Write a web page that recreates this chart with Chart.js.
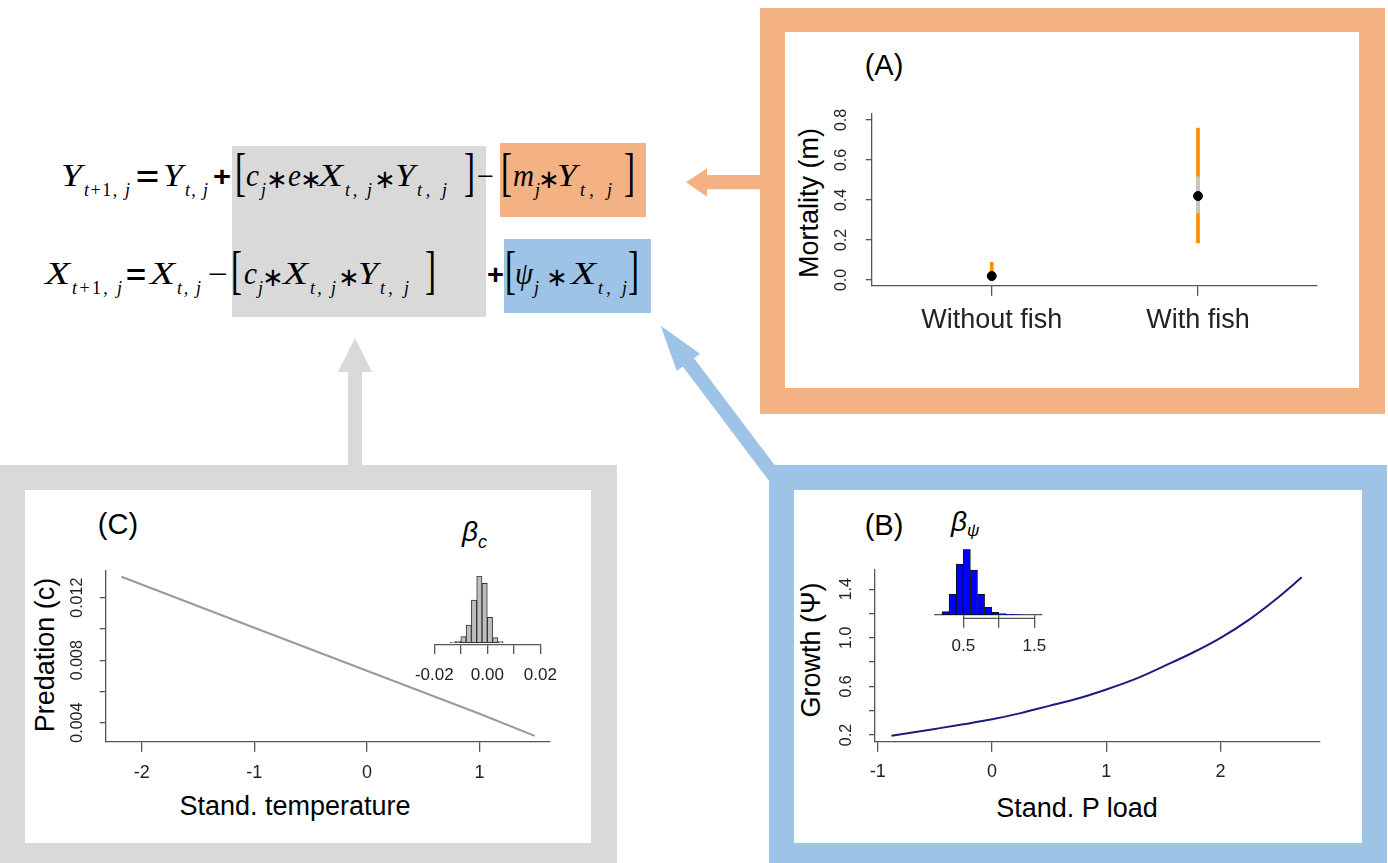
<!DOCTYPE html>
<html>
<head>
<meta charset="utf-8">
<script src="https://cdn.jsdelivr.net/npm/chart.js@4.4.1/dist/chart.umd.min.js"></script>
<style>
  html, body { margin: 0; padding: 0; background: #fff; }
  #stage { position: relative; width: 1388px; height: 863px; overflow: hidden; }
  #stage svg { position: absolute; left: 0; top: 0; }
  .plot { position: absolute; }
  .m { font-family: "Liberation Serif", serif; font-style: italic; font-size: 31px; }
  .s { font-family: "Liberation Serif", serif; font-style: italic; font-size: 18px; }
  .u { font-style: normal; }
  .op { font-family: "Liberation Sans", sans-serif; font-weight: bold; font-size: 28px; }
  .mi { font-family: "Liberation Serif", serif; font-size: 30px; }
  .br { font-family: "Liberation Serif", serif; font-size: 52px; }
  .ast { font-family: "DejaVu Sans", sans-serif; font-size: 26px; }
  .lbl { font-family: "Liberation Sans", Arial, sans-serif; fill: #000; }
</style>
</head>
<body>
<div id="stage">
<svg width="1388" height="863">
  <!-- panel frames -->
  <rect x="760" y="8" width="625" height="406" fill="#F4B183"/>
  <rect x="785" y="32" width="574" height="356" fill="#fff"/>
  <rect x="0" y="465" width="617" height="398" fill="#D9D9D9"/>
  <rect x="25" y="490" width="566" height="353" fill="#fff"/>
  <rect x="769" y="465" width="618" height="398" fill="#9DC3E6"/>
  <rect x="794" y="490" width="568" height="353" fill="#fff"/>

  <!-- equation highlight boxes -->
  <rect x="232" y="146" width="254" height="171" fill="#D9D9D9"/>
  <rect x="500" y="143" width="146" height="74" fill="#F4B183"/>
  <rect x="504" y="239" width="147" height="74" fill="#9DC3E6"/>

  <!-- arrows -->
  <polygon fill="#F4B183" points="762,175 707,175 707,168.3 686,182.3 707,196.7 707,189.3 762,189.3"/>
  <polygon fill="#D9D9D9" points="355,338 372,372 362,372 362,466 348,466 348,372 338,372"/>
  <polygon fill="#9DC3E6" points="660.7,325.7 700,353.7 694,358.2 781.2,473.8 770,482.2 682.8,366.6 676.8,371.1"/>

  <!-- equation row 1 -->
  <text class="m" x="61" y="186" textLength="21" lengthAdjust="spacingAndGlyphs">Y</text>
  <text class="s" x="84" y="196" textLength="46">t<tspan class="u">+1</tspan>, j</text>
  <text class="op" x="136" y="186" textLength="23" lengthAdjust="spacingAndGlyphs">=</text>
  <text class="m" x="163" y="186" textLength="20" lengthAdjust="spacingAndGlyphs">Y</text>
  <text class="s" x="185" y="196" textLength="23">t, j</text>
  <text class="op" x="213" y="186" textLength="18" lengthAdjust="spacingAndGlyphs">+</text>
  <text class="br" x="235" y="190" textLength="11" lengthAdjust="spacingAndGlyphs">[</text>
  <text class="m" x="246" y="186" textLength="13" lengthAdjust="spacingAndGlyphs">c</text>
  <text class="s" x="261" y="196">j</text>
  <text class="ast" x="277" y="188" text-anchor="middle">∗</text>
  <text class="m" x="288" y="186" textLength="13" lengthAdjust="spacingAndGlyphs">e</text>
  <text class="ast" x="311" y="188" text-anchor="middle">∗</text>
  <text class="m" x="318" y="186" textLength="25" lengthAdjust="spacingAndGlyphs">X</text>
  <text class="s" x="345" y="196" textLength="27">t, j</text>
  <text class="ast" x="385" y="188" text-anchor="middle">∗</text>
  <text class="m" x="395" y="186" textLength="20" lengthAdjust="spacingAndGlyphs">Y</text>
  <text class="s" x="417" y="196" textLength="30">t, j</text>
  <text class="br" x="464" y="190" textLength="11" lengthAdjust="spacingAndGlyphs">]</text>
  <text class="mi" x="477" y="186" textLength="17" lengthAdjust="spacingAndGlyphs">−</text>
  <text class="br" x="501" y="190" textLength="11" lengthAdjust="spacingAndGlyphs">[</text>
  <text class="m" x="513" y="186" textLength="21" lengthAdjust="spacingAndGlyphs">m</text>
  <text class="s" x="535" y="196">j</text>
  <text class="ast" x="549" y="188" text-anchor="middle">∗</text>
  <text class="m" x="557" y="186" textLength="20" lengthAdjust="spacingAndGlyphs">Y</text>
  <text class="s" x="580" y="196" textLength="32">t, j</text>
  <text class="br" x="624" y="190" textLength="11" lengthAdjust="spacingAndGlyphs">]</text>

  <!-- equation row 2 -->
  <text class="m" x="45" y="284" textLength="25" lengthAdjust="spacingAndGlyphs">X</text>
  <text class="s" x="72" y="294" textLength="50">t<tspan class="u">+1</tspan>, j</text>
  <text class="op" x="126" y="284" textLength="20" lengthAdjust="spacingAndGlyphs">=</text>
  <text class="m" x="150" y="284" textLength="25" lengthAdjust="spacingAndGlyphs">X</text>
  <text class="s" x="177" y="294" textLength="24">t, j</text>
  <text class="mi" x="208" y="284" textLength="20" lengthAdjust="spacingAndGlyphs">−</text>
  <text class="br" x="231" y="288" textLength="11" lengthAdjust="spacingAndGlyphs">[</text>
  <text class="m" x="244" y="284" textLength="13" lengthAdjust="spacingAndGlyphs">c</text>
  <text class="s" x="258" y="294">j</text>
  <text class="ast" x="273" y="286" text-anchor="middle">∗</text>
  <text class="m" x="283" y="284" textLength="25" lengthAdjust="spacingAndGlyphs">X</text>
  <text class="s" x="310" y="294" textLength="26">t, j</text>
  <text class="ast" x="349" y="286" text-anchor="middle">∗</text>
  <text class="m" x="358" y="284" textLength="20" lengthAdjust="spacingAndGlyphs">Y</text>
  <text class="s" x="380" y="294" textLength="29">t, j</text>
  <text class="br" x="425" y="288" textLength="11" lengthAdjust="spacingAndGlyphs">]</text>
  <text class="op" x="487" y="284" textLength="17" lengthAdjust="spacingAndGlyphs">+</text>
  <text class="br" x="505" y="288" textLength="11" lengthAdjust="spacingAndGlyphs">[</text>
  <text class="m" x="515" y="284" textLength="18" lengthAdjust="spacingAndGlyphs">ψ</text>
  <text class="s" x="534" y="294">j</text>
  <text class="ast" x="557" y="286" text-anchor="middle">∗</text>
  <text class="m" x="571" y="284" textLength="25" lengthAdjust="spacingAndGlyphs">X</text>
  <text class="s" x="598" y="294" textLength="29">t, j</text>
  <text class="br" x="628" y="288" textLength="11" lengthAdjust="spacingAndGlyphs">]</text>

  <!-- panel letters and inset titles -->
  <text class="lbl" x="884" y="75" font-size="29" text-anchor="middle">(A)</text>
  <text class="lbl" x="118" y="534" font-size="29" text-anchor="middle">(C)</text>
  <text class="lbl" x="884" y="535" font-size="29" text-anchor="middle">(B)</text>
  <text class="lbl" x="462" y="541" font-size="28" font-style="italic">β<tspan font-size="18" dy="7">c</tspan></text>
  <text class="lbl" x="951" y="531" font-size="28" font-style="italic">β<tspan font-size="17" dy="5">ψ</tspan></text>

  <!-- axis titles -->
  <text class="lbl" font-size="27" text-anchor="middle" transform="translate(818,203) rotate(-90)">Mortality (m)</text>
  <text class="lbl" font-size="27" text-anchor="middle" transform="translate(54,655) rotate(-90)">Predation (c)</text>
  <text class="lbl" font-size="27" text-anchor="middle" transform="translate(820,650) rotate(-90)">Growth (Ψ)</text>
  <text class="lbl" font-size="27" text-anchor="middle" x="295" y="815">Stand. temperature</text>
  <text class="lbl" font-size="27" text-anchor="middle" x="1077" y="817">Stand. P load</text>
</svg>

<div class="plot" style="left:785px;top:32px;width:574px;height:356px"><canvas id="chartA"></canvas></div>
<div class="plot" style="left:25px;top:490px;width:566px;height:353px"><canvas id="chartC"></canvas></div>
<div class="plot" style="left:794px;top:490px;width:568px;height:353px"><canvas id="chartB"></canvas></div>
<div class="plot" style="left:400px;top:560px;width:180px;height:140px"><canvas id="histC"></canvas></div>
<div class="plot" style="left:920px;top:530px;width:140px;height:140px"><canvas id="histB"></canvas></div>
</div>

<script>
// ---- data ----
const groups = ['Without fish', 'With fish'];
const mortMedian = [0.02, 0.42];
const mortLow95 = [-0.003, 0.185];
const mortHigh95 = [0.088, 0.76];
const mortLow50 = [0.008, 0.336];
const mortHigh50 = [0.036, 0.516];
const mortTicks = [0, 0.2, 0.4, 0.6, 0.8];

const tempX = [-2.18, -1, 0, 1, 1.49];
const predY = [0.01334, 0.01008, 0.00732, 0.00457, 0.00315];
const tempTicks = [-2, -1, 0, 1];
const predTicks = [0.004, 0.006, 0.008, 0.010, 0.012];
const predTickLabels = ['0.004', '', '0.008', '', '0.012'];

const pLoadX = [-0.88, -0.5, -0.25, 0, 0.25, 0.5, 0.75, 1, 1.25, 1.5, 1.75, 2, 2.25, 2.5, 2.71];
const growthY = [0.194, 0.25, 0.288, 0.329, 0.38, 0.44, 0.5, 0.575, 0.66, 0.765, 0.875, 1.0, 1.15, 1.33, 1.498];
const pLoadTicks = [-1, 0, 1, 2];
const growthTicks = [0.2, 0.4, 0.6, 0.8, 1.0, 1.2, 1.4];
const growthTickLabels = ['0.2', '', '0.6', '', '1.0', '', '1.4'];

const betaCBins = [-0.013, -0.011, -0.009, -0.007, -0.005, -0.003, -0.001, 0.001, 0.003, 0.005];
const betaCCounts = [1, 5, 18, 53, 128, 200, 178, 76, 15, 3];
const betaCTicks = [-0.02, -0.01, 0, 0.01, 0.02];
const betaCTickLabels = ['-0.02', '', '0.00', '', '0.02'];

const betaPsiBins = [0.25, 0.35, 0.45, 0.55, 0.65, 0.75, 0.85, 0.95, 1.05, 1.15, 1.25];
const betaPsiCounts = [10, 62, 153, 197, 135, 62, 23, 8, 4, 2, 1];
const betaPsiTicks = [0.5, 1.0, 1.5];
const betaPsiTickLabels = ['0.5', '', '1.5'];

// ---- shared R-like styling ----
const FONT = '"Liberation Sans", Arial, sans-serif';
const AXIS = '#555';
const TEXT = '#222';
Chart.defaults.font.family = FONT;
Chart.defaults.animation = false;
Chart.defaults.plugins.legend.display = false;
Chart.defaults.plugins.tooltip.enabled = false;

const mctx = document.createElement('canvas').getContext('2d');
function textWidth(str, size) {
  mctx.font = size + 'px ' + FONT;
  return mctx.measureText(str).width;
}

// y axis with labels turned parallel to the axis, centred `offset` px left of it
function yAxis(min, max, ticks, labels, width, offset, size) {
  const tl = 6;
  const widest = Math.max(...labels.map(l => textWidth(l, size)));
  return {
    min, max,
    afterBuildTicks: s => { s.ticks = ticks.map(v => ({ value: v })); },
    afterFit: s => { s.width = width; },
    ticks: {
      callback: (v, i) => labels[i], autoSkip: false, minRotation: 90, maxRotation: 90,
      crossAlign: 'center', padding: offset - tl - widest / 2, font: { size }, color: TEXT
    },
    grid: { display: true, drawOnChartArea: false, drawTicks: true, tickLength: tl, color: AXIS, lineWidth: 1.3 },
    border: { display: true, color: AXIS, width: 1.3 }
  };
}

// x axis, label centre `offset` px below the axis line
function xAxis(min, max, ticks, labels, height, offset, size, tl) {
  return {
    type: 'linear', min, max, offset: false,
    afterBuildTicks: s => { s.ticks = ticks.map(v => ({ value: v })); },
    afterFit: s => { s.height = height; },
    ticks: {
      callback: (v, i) => labels[i], autoSkip: false, maxRotation: 0,
      padding: offset - tl - size * 0.6, font: { size }, color: TEXT
    },
    grid: { display: true, drawOnChartArea: false, drawTicks: true, tickLength: tl, color: AXIS, lineWidth: 1.3, offset: false },
    border: { display: true, color: AXIS, width: 1.3 }
  };
}

// R draws the histogram axis only between its first and last tick
const partialAxis = {
  id: 'partialAxis',
  afterDraw(chart, args, o) {
    const s = chart.scales.x, ctx = chart.ctx;
    const y = chart.chartArea.bottom + o.gap;
    ctx.save();
    ctx.strokeStyle = AXIS;
    ctx.lineWidth = 1.3;
    ctx.beginPath();
    ctx.moveTo(s.getPixelForValue(o.from), y);
    ctx.lineTo(s.getPixelForValue(o.to), y);
    ctx.stroke();
    ctx.restore();
  }
};

const base = { responsive: true, maintainAspectRatio: false, devicePixelRatio: 1, events: [] };

// (A) mortality
new Chart(document.getElementById('chartA'), {
  type: 'bar',
  data: {
    datasets: [
      {
        type: 'scatter', order: 0,
        data: groups.map((g, i) => ({ x: i + 1, y: mortMedian[i] })),
        pointRadius: 4.5, pointBackgroundColor: '#000', pointBorderColor: '#000'
      },
      {
        order: 1, grouped: false, barThickness: 3, backgroundColor: '#c8c8c8',
        data: groups.map((g, i) => ({ x: i + 1, y: [mortLow50[i], mortHigh50[i]] }))
      },
      {
        order: 2, grouped: false, barThickness: 3, backgroundColor: '#ff8c00',
        data: groups.map((g, i) => ({ x: i + 1, y: [mortLow95[i], mortHigh95[i]] }))
      }
    ]
  },
  options: {
    ...base,
    layout: { padding: { left: 0, right: 42, top: 82, bottom: 0 } },
    scales: {
      x: xAxis(0.418, 2.577, [1, 2], groups, 102.3, 35.3, 27, 10),
      y: yAxis(-0.0285, 0.83, mortTicks, mortTicks.map(v => v.toFixed(1)), 86.7, 30, 16)
    }
  }
});

// (C) predation
new Chart(document.getElementById('chartC'), {
  type: 'scatter',
  data: {
    datasets: [{
      data: tempX.map((x, i) => ({ x, y: predY[i] })),
      showLine: true, borderColor: '#9a9a9a', borderWidth: 2, pointRadius: 0
    }]
  },
  options: {
    ...base,
    layout: { padding: { left: 0, right: 41, top: 81, bottom: 0 } },
    scales: {
      x: xAxis(-2.32, 1.626, tempTicks, tempTicks.map(String), 101.3, 31.3, 18, 10),
      y: yAxis(0.00278, 0.01371, predTicks, predTickLabels, 80.7, 28, 16)
    }
  }
});

// (B) growth
new Chart(document.getElementById('chartB'), {
  type: 'scatter',
  data: {
    datasets: [{
      data: pLoadX.map((x, i) => ({ x, y: growthY[i] })),
      showLine: true, cubicInterpolationMode: 'monotone',
      borderColor: '#1c1c80', borderWidth: 2, pointRadius: 0
    }]
  },
  options: {
    ...base,
    layout: { padding: { left: 0, right: 42.4, top: 80, bottom: 0 } },
    scales: {
      x: xAxis(-1.024, 2.866, pLoadTicks, pLoadTicks.map(String), 101.3, 30, 18, 10),
      y: yAxis(0.145, 1.558, growthTicks, growthTickLabels, 81, 28, 16)
    }
  }
});

// inset histogram of beta_c
new Chart(document.getElementById('histC'), {
  type: 'bar',
  data: {
    datasets: [{
      data: betaCBins.map((b, i) => ({ x: b, y: betaCCounts[i] })),
      backgroundColor: '#bebebe', borderColor: '#333', borderWidth: 1, borderSkipped: false,
      categoryPercentage: 1, barPercentage: 1
    }]
  },
  options: {
    ...base,
    layout: { padding: { left: 34.3, right: 39.7, top: 16, bottom: 0 } },
    scales: {
      x: xAxis(-0.02, 0.02, betaCTicks, betaCTickLabels, 55, 30, 17, 9),
      y: { display: false, min: -7, max: 200 }
    }
  }
});

// inset histogram of beta_psi
new Chart(document.getElementById('histB'), {
  type: 'bar',
  data: {
    datasets: [{
      data: betaPsiBins.map((b, i) => ({ x: b, y: betaPsiCounts[i] })),
      backgroundColor: '#0000ff', borderColor: '#111', borderWidth: 1, borderSkipped: false,
      categoryPercentage: 1, barPercentage: 1
    }]
  },
  options: {
    ...base,
    layout: { padding: { left: 14.9, right: 18.6, top: 19.3, bottom: 0 } },
    plugins: { partialAxis: { from: 0.5, to: 1.5, gap: 3.3 } },
    scales: {
      x: xAxis(0.1, 1.6, betaPsiTicks, betaPsiTickLabels, 55, 31.7, 17, 12.7),
      y: { display: false, min: 0, max: 197 }
    }
  },
  plugins: [partialAxis]
});
</script>
</body>
</html>
